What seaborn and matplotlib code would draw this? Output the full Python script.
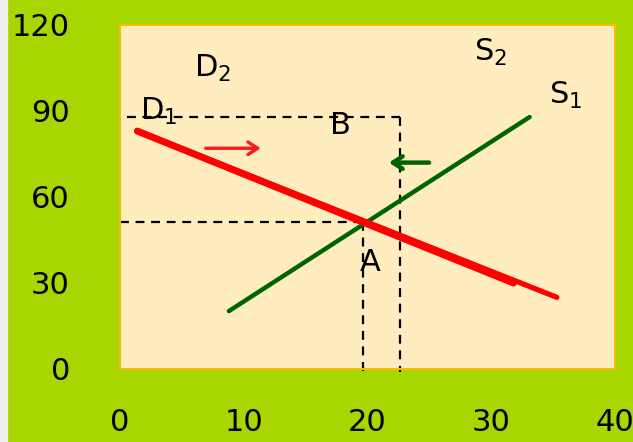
import matplotlib
matplotlib.use("Agg")
import matplotlib.pyplot as plt
import seaborn as sns
import pandas as pd
from matplotlib.patches import Rectangle

# demand / supply lines (quantity, price)
demand_x = [1.4, 35.3]
demand_y = [83, 25]
demand_thick_x = [1.4, 31.8]
demand_thick_y = [83, 30]
supply_x = [8.8, 33.1]
supply_y = [20.2, 87.9]

# equilibrium guide lines
point_a = (19.6, 51.3)
point_b = (22.6, 87.9)

labels = ["D$_2$", "D$_1$", "B", "S$_2$", "S$_1$", "A"]
label_x = [6.0, 1.6, 17.0, 28.6, 34.7, 19.4]
label_y = [105, 90, 85, 110.5, 95.5, 37]

x_ticks = [0, 10, 20, 30, 40]
y_ticks = [0, 30, 60, 90, 120]

BG = "#a8d600"
PANEL = "#ffedc0"
EDGE = "#f5c000"


def main():
    sns.set_style("white")
    plt.rcParams["font.family"] = ["DejaVu Sans"]
    fig = plt.figure(figsize=(6.33, 4.42), dpi=100, facecolor=BG)
    fig.patches.append(Rectangle((0, 0), 7 / 633, 1, transform=fig.transFigure,
                                 color="#eeeeea", zorder=-1))
    ax = fig.add_axes([120 / 633, 1 - 369 / 442, 495 / 633, 344 / 442])
    ax.set_facecolor(PANEL)

    demand = pd.DataFrame({"x": demand_x, "y": demand_y})
    demand_thick = pd.DataFrame({"x": demand_thick_x, "y": demand_thick_y})
    supply = pd.DataFrame({"x": supply_x, "y": supply_y})

    dash = dict(color="black", lw=1.6, dashes=(4, 3), clip_on=False, zorder=2)
    ax.plot([0, point_a[0]], [point_a[1], point_a[1]], **dash)
    ax.plot([point_a[0], point_a[0]], [point_a[1], -1], **dash)
    ax.plot([0.6, point_b[0]], [point_b[1], point_b[1]], **dash)
    ax.plot([point_b[0], point_b[0]], [point_b[1], -1], **dash)

    sns.lineplot(data=supply, x="x", y="y", ax=ax, color="#006400", lw=3.2, zorder=3)
    sns.lineplot(data=demand, x="x", y="y", ax=ax, color="#ff0000", lw=3.8, zorder=4)
    sns.lineplot(data=demand_thick, x="x", y="y", ax=ax, color="#ff0000", lw=5, zorder=4)

    ax.annotate("", xy=(11.6, 77), xytext=(6.7, 77),
                arrowprops=dict(arrowstyle="->,head_length=0.7,head_width=0.45",
                                color="#ff1a1a", lw=2.4))
    ax.annotate("", xy=(21.5, 72), xytext=(25.2, 72),
                arrowprops=dict(arrowstyle="->,head_length=0.7,head_width=0.45",
                                color="#006400", lw=3.2))

    for t, x, y in zip(labels, label_x, label_y):
        ax.text(x, y, t, fontsize=22, ha="left", va="center", color="black", zorder=5)

    ax.set_xlim(0, 40)
    ax.set_ylim(0, 120)
    ax.set_xticks(x_ticks)
    ax.set_yticks(y_ticks)
    ax.set_xlabel("")
    ax.set_ylabel("")
    ax.tick_params(axis="both", length=4, width=1.5, color=EDGE, labelsize=22,
                   labelcolor="black", direction="out")
    ax.tick_params(axis="x", pad=24)
    ax.tick_params(axis="y", pad=32)
    for s in ax.spines.values():
        s.set_color(EDGE)
        s.set_linewidth(1.5)
        s.set_visible(True)

    fig.savefig("out.png", dpi=100, facecolor=BG)


if __name__ == "__main__":
    main()
